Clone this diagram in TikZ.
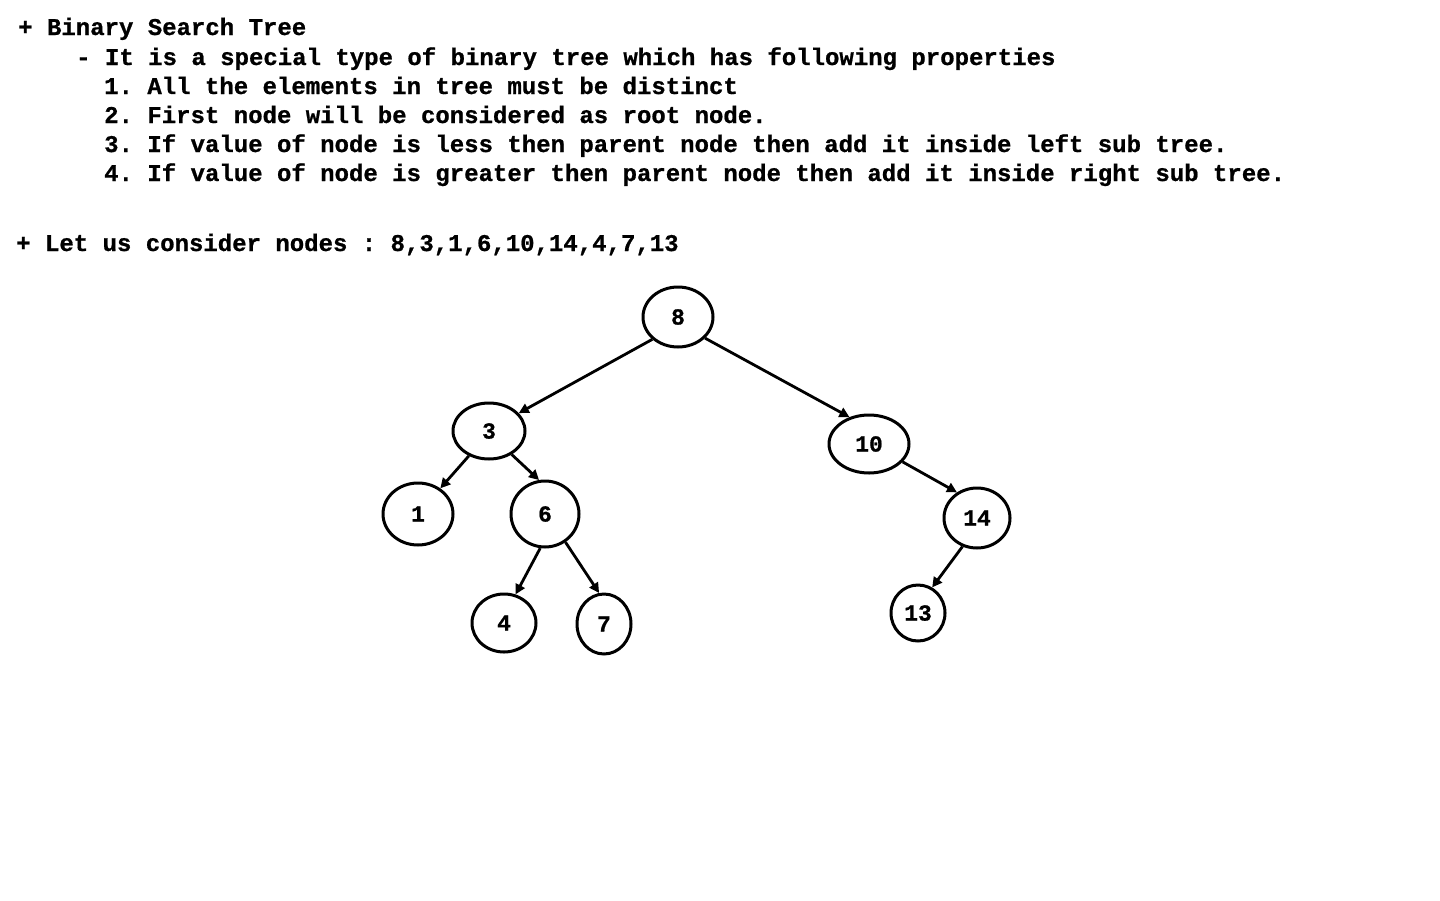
\documentclass[tikz,border=0pt]{standalone}
\usepackage{fontspec}
\setmonofont[BoldFeatures={FakeBold=0.8}]{Liberation Mono}
\usetikzlibrary{shapes.geometric,arrows.meta}
\begin{document}
\begin{tikzpicture}[x=1pt,y=-1pt,
  txt/.style={anchor=base west,inner sep=0pt,font=\ttfamily\bfseries\fontsize{24}{28}\selectfont},
  bst/.style={ellipse,draw,line width=3pt,inner sep=0pt,font=\ttfamily\bfseries\fontsize{23}{26}\selectfont},
  conn/.style={line width=2.8pt,-{Triangle[length=10pt,width=10pt]}}]
\useasboundingbox[fill=white] (0,0) rectangle (1440,900);
\node[txt] (t1) at (18,35) {+ Binary Search Tree};
\node[txt] (t2) at (76,65) {- It is a special type of binary tree which has following properties};
\node[txt] (t3) at (104,94) {1. All the elements in tree must be distinct};
\node[txt] (t4) at (104,123) {2. First node will be considered as root node.};
\node[txt] (t5) at (104,152) {3. If value of node is less then parent node then add it inside left sub tree.};
\node[txt] (t6) at (104,181) {4. If value of node is greater then parent node then add it inside right sub tree.};
\node[txt] (t7) at (16,251) {+ Let us consider nodes : 8,3,1,6,10,14,4,7,13};

\node[bst,minimum width=70pt,minimum height=60pt] (n8) at (678,317) {8};
\node[bst,minimum width=72pt,minimum height=56pt] (n3) at (489,431) {3};
\node[bst,minimum width=80pt,minimum height=58pt] (n10) at (869,444) {10};
\node[bst,minimum width=70pt,minimum height=62pt] (n1) at (418,514) {1};
\node[bst,minimum width=68pt,minimum height=66pt] (n6) at (545,514) {6};
\node[bst,minimum width=66pt,minimum height=60pt] (n14) at (977,518) {14};
\node[bst,minimum width=64pt,minimum height=58pt] (n4) at (504,623) {4};
\node[bst,minimum width=54pt,minimum height=60pt] (n7) at (604,624) {7};
\node[bst,minimum width=54pt,minimum height=56pt] (n13) at (918,613) {13};

\draw[conn] (n8.221) -- (n3.31);
\draw[conn] (n8.-38) -- (n10.126);
\draw[conn] (n3.231) -- (n1.49);
\draw[conn] (n3.-46) -- (n6.100);
\draw[conn] (n6.262) -- (n4.68);
\draw[conn] (n6.-54) -- (n7.99);
\draw[conn] (n10.-28) -- (n14.128);
\draw[conn] (n14.243) -- (n13.61);
\end{tikzpicture}
\end{document}
